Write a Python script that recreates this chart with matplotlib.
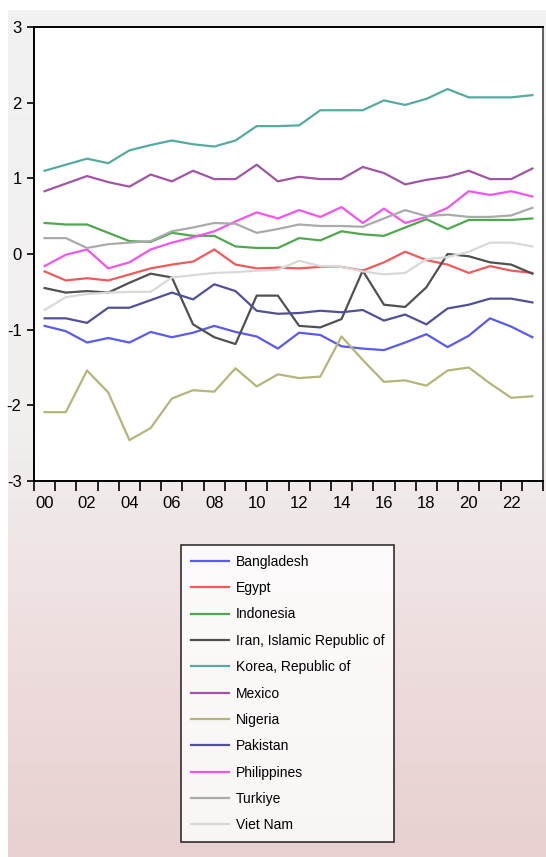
import numpy as np
import matplotlib
matplotlib.use("Agg")
import matplotlib.pyplot as plt
from matplotlib.colors import LinearSegmentedColormap

plt.rcParams['font.family'] = ['Liberation Sans', 'DejaVu Sans']

years = list(range(2000, 2024))

bangladesh = [-0.95, -1.02, -1.17, -1.11, -1.17, -1.03, -1.10, -1.04, -0.95, -1.03, -1.09, -1.25,
              -1.04, -1.07, -1.22, -1.25, -1.27, -1.17, -1.06, -1.23, -1.08, -0.85, -0.96, -1.10]
egypt = [-0.23, -0.35, -0.32, -0.35, -0.27, -0.19, -0.14, -0.10, 0.06, -0.14, -0.19, -0.18,
         -0.19, -0.17, -0.17, -0.22, -0.11, 0.03, -0.08, -0.14, -0.25, -0.16, -0.22, -0.25]
indonesia = [0.41, 0.39, 0.39, 0.28, 0.17, 0.16, 0.28, 0.24, 0.24, 0.10, 0.08, 0.08,
             0.21, 0.18, 0.30, 0.26, 0.24, 0.35, 0.46, 0.33, 0.45, 0.45, 0.45, 0.47]
iran = [-0.45, -0.51, -0.49, -0.51, -0.38, -0.26, -0.31, -0.93, -1.10, -1.19, -0.55, -0.55,
        -0.95, -0.97, -0.86, -0.22, -0.67, -0.70, -0.44, 0.00, -0.03, -0.11, -0.14, -0.26]
korea = [1.10, 1.18, 1.26, 1.20, 1.37, 1.44, 1.50, 1.45, 1.42, 1.50, 1.69, 1.69,
         1.70, 1.90, 1.90, 1.90, 2.03, 1.97, 2.05, 2.18, 2.07, 2.07, 2.07, 2.10]
mexico = [0.83, 0.93, 1.03, 0.95, 0.89, 1.05, 0.96, 1.10, 0.99, 0.99, 1.18, 0.96,
          1.02, 0.99, 0.99, 1.15, 1.07, 0.92, 0.98, 1.02, 1.10, 0.99, 0.99, 1.13]
nigeria = [-2.09, -2.09, -1.54, -1.83, -2.46, -2.30, -1.91, -1.80, -1.82, -1.51, -1.75, -1.59,
           -1.64, -1.62, -1.09, -1.40, -1.69, -1.67, -1.74, -1.54, -1.50, -1.71, -1.90, -1.88]
pakistan = [-0.85, -0.85, -0.91, -0.71, -0.71, -0.61, -0.51, -0.60, -0.40, -0.49, -0.75, -0.79,
            -0.78, -0.75, -0.77, -0.74, -0.88, -0.80, -0.93, -0.72, -0.67, -0.59, -0.59, -0.64]
philippines = [-0.16, -0.01, 0.06, -0.19, -0.11, 0.06, 0.15, 0.22, 0.30, 0.43, 0.55, 0.47,
               0.58, 0.49, 0.62, 0.41, 0.60, 0.41, 0.49, 0.61, 0.83, 0.78, 0.83, 0.76]
turkiye = [0.21, 0.21, 0.08, 0.13, 0.15, 0.17, 0.30, 0.35, 0.41, 0.40, 0.28, 0.33,
           0.39, 0.37, 0.37, 0.36, 0.47, 0.58, 0.50, 0.52, 0.49, 0.49, 0.51, 0.61]
vietnam = [-0.74, -0.57, -0.53, -0.51, -0.50, -0.50, -0.31, -0.28, -0.25, -0.24, -0.22, -0.21,
           -0.09, -0.16, -0.17, -0.23, -0.27, -0.25, -0.07, -0.04, 0.03, 0.15, 0.15, 0.10]

series_names = ["Bangladesh", "Egypt", "Indonesia", "Iran, Islamic Republic of",
                "Korea, Republic of", "Mexico", "Nigeria", "Pakistan", "Philippines",
                "Turkiye", "Viet Nam"]
series_values = [bangladesh, egypt, indonesia, iran, korea, mexico, nigeria, pakistan,
                 philippines, turkiye, vietnam]
colors = ["#5a5af0", "#f05a5a", "#4fa84f", "#505050", "#55aaa2", "#a055a5",
          "#b5b57a", "#50509a", "#f055f0", "#aaaaaa", "#d8d8d8"]

y_ticks = [3, 2, 1, 0, -1, -2, -3]
x_label_years = list(range(2000, 2023, 2))
x_labels = ["%02d" % (y % 100) for y in x_label_years]

W, H = 546, 857
fig = plt.figure(figsize=(W / 100, H / 100), dpi=100)
fig.patch.set_facecolor("white")

# gradient background panel
bg = fig.add_axes([8 / W, 0, 1 - 8 / W, 1 - 10 / H], zorder=0)
cmap = LinearSegmentedColormap.from_list(
    "bg", [(0.0, "#f2f2f2"), (0.5, "#f1eeee"), (0.75, "#eedede"), (1.0, "#e8d0d0")])
grad = np.linspace(0, 1, 256).reshape(-1, 1)
bg.imshow(grad, aspect="auto", cmap=cmap, extent=[0, 1, 1, 0])
bg.set_axis_off()

left, right, top, bottom = 34, 543, 27, 481
ax = fig.add_axes([left / W, 1 - bottom / H, (right - left) / W, (bottom - top) / H], zorder=2)
ax.set_facecolor("white")

for name, vals, c in zip(series_names, series_values, colors):
    ax.plot(years, vals, color=c, lw=1.6, label=name)

ax.set_xlim(1999.5, 2023.5)
ax.set_ylim(-3, 3)
ax.set_yticks(y_ticks)
ax.set_yticklabels([str(t) for t in y_ticks], fontsize=12)
ax.set_xticks(x_label_years)
ax.set_xticklabels(x_labels, fontsize=12)
ax.set_xticks(np.arange(1999.5, 2024, 1.0), minor=True)
ax.tick_params(axis="x", which="major", length=0, pad=11)
ax.tick_params(axis="x", which="minor", length=7, width=1.2, direction="out", color="black")
ax.tick_params(axis="y", which="major", length=5, width=1.2, direction="out", pad=4)
for s in ["left", "bottom", "top"]:
    ax.spines[s].set_linewidth(1.4)
    ax.spines[s].set_color("black")
ax.spines["right"].set_linewidth(1.2)
ax.spines["right"].set_color("#444444")

handles, labels = ax.get_legend_handles_labels()
leg = fig.legend(handles, labels, loc="upper left",
                 bbox_to_anchor=(181 / W, 1 - 545 / H), bbox_transform=fig.transFigure,
                 frameon=True, fancybox=False, edgecolor="black", facecolor="white",
                 fontsize=10, handlelength=2.75, handletextpad=0.5, labelspacing=0.89,
                 borderpad=0.7, borderaxespad=0)
leg.get_frame().set_linewidth(1.2)
leg.set_zorder(3)

fig.savefig("out.png", dpi=100)
